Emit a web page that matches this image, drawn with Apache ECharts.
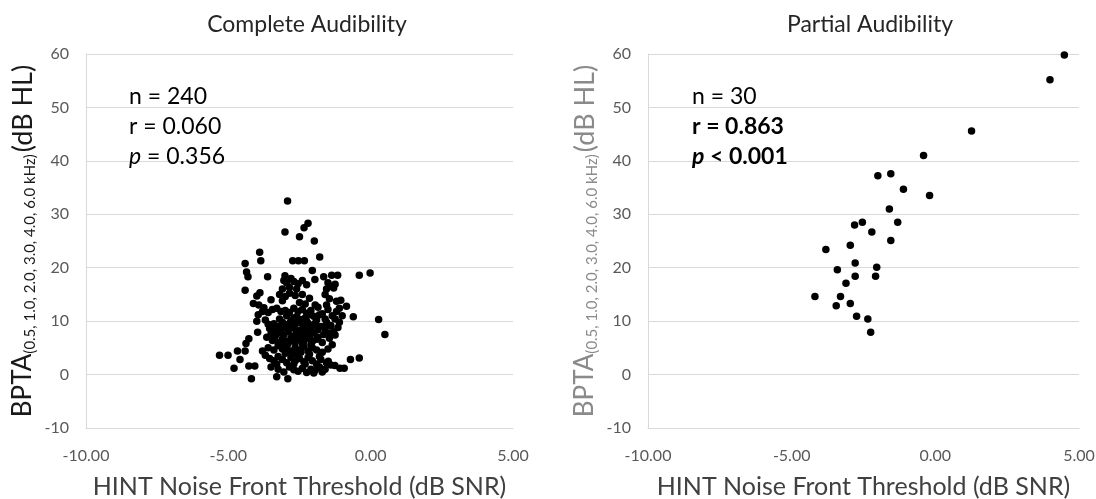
<!DOCTYPE html>
<html>
<head>
<meta charset="utf-8">
<script src="https://cdn.jsdelivr.net/npm/echarts@6/dist/echarts.min.js"></script>
<style>
  html, body { margin: 0; padding: 0; background: #fff; }
  #main { width: 1096px; height: 499px; }
</style>
</head>
<body>
<div id="main"></div>
<script>
const panelTitles = ['Complete Audibility', 'Partial Audibility'];
const xAxisTitle = 'HINT Noise Front Threshold (dB SNR)';
const yAxisMain = 'BPTA';
const yAxisSub = '(0.5, 1.0, 2.0, 3.0, 4.0, 6.0 kHz)';
const yAxisUnit = '(dB HL)';

// n, r, p for each panel
const completeStats = ['n = 240', 'r = 0.060', ' = 0.356'];
const partialStats = ['n = 30', 'r = 0.863', ' < 0.001'];

// complete audibility, [HINT snr, BPTA]
const completePoints = [
  [-2.92,32.5],[-3.01,26.7],[-2.50,25.8],[-2.34,27.5],[-2.20,28.3],[-1.98,25.0],[-3.90,22.9],[-3.86,21.3],
  [-1.79,22.0],[-2.74,21.3],[-2.54,21.3],[-2.33,21.3],[-4.41,20.8],[-4.36,19.2],[-4.31,18.3],[-3.62,18.3],
  [-3.01,18.5],[-2.05,19.5],[-1.96,17.8],[-1.65,18.3],[-1.37,18.6],[-1.16,18.6],[-0.40,18.6],[-0.02,19.0],
  [-4.41,15.8],[-4.00,14.7],[-3.89,15.3],[-4.12,13.3],[-3.93,13.0],[-0.85,12.8],[-0.61,10.8],[0.28,10.3],
  [0.50,7.5],[-0.40,3.1],[-0.71,2.8],[-5.31,3.6],[-5.01,3.6],[-4.68,4.4],[-4.41,4.4],[-4.59,2.8],
  [-4.80,1.2],[-4.28,1.6],[-4.07,1.6],[-4.28,6.7],[-4.38,5.8],[-3.97,7.9],[-4.19,-0.8],[-3.30,-0.4],
  [-2.91,-0.8],[-1.26,1.7],[-1.08,1.2],[-0.93,1.2],[-1.49,2.5],
  [-3.05,17.6],[-2.95,17.2],[-2.80,18.0],[-2.70,17.4],[-2.55,17.0],[-2.40,17.6],[-2.25,16.8],[-1.50,17.2],
  [-1.40,16.6],[-1.25,16.9],[-3.10,16.0],[-2.85,16.3],[-2.60,16.0],[-1.55,16.0],[-1.30,16.2],
  [-3.20,15.0],[-3.00,14.6],[-2.85,15.2],[-2.65,14.8],[-2.40,15.0],[-2.15,14.3],[-1.60,15.0],[-1.45,14.2],
  [-1.20,13.7],[-3.50,14.0],[-3.75,12.5],[-3.10,13.8],[-2.50,13.5],[-2.30,13.2],[-1.95,13.0],[-1.05,13.9],
  [-3.80,11.8],[-3.60,11.6],[-3.45,12.2],[-3.30,12.4],[-3.15,11.8],[-3.00,12.0],[-2.85,11.6],[-2.70,12.4],
  [-2.55,11.8],[-2.40,12.2],[-2.25,11.5],[-2.10,12.0],[-1.85,12.6],[-1.70,11.4],[-1.50,12.2],[-1.35,11.0],
  [-1.20,11.8],[-1.10,12.4],[-1.55,13.0],[-3.95,11.2],[-3.70,10.2],[-2.95,11.0],[-2.60,10.8],[-2.30,10.6],
  [-2.00,10.9],
  [-3.40,9.5],[-3.25,9.0],[-3.10,9.8],[-2.95,9.2],[-2.80,10.0],[-2.65,9.4],[-2.50,9.8],[-2.35,9.0],
  [-2.20,9.6],[-2.05,9.2],[-1.90,10.2],[-1.75,9.0],[-1.55,9.8],[-1.40,9.2],[-1.25,10.4],[-1.15,8.8],
  [-3.55,8.6],[-3.15,8.5],[-2.75,8.7],[-2.45,8.4],[-2.10,8.6],[-1.85,8.4],[-1.60,8.6],[-1.30,8.0],
  [-4.00,10.0],
  [-3.50,7.6],[-3.35,7.2],[-3.20,7.8],[-3.05,7.4],[-2.90,8.0],[-2.75,7.2],[-2.60,7.8],[-2.45,7.4],
  [-2.30,8.0],[-2.15,7.2],[-2.00,7.8],[-1.85,7.0],[-1.65,7.5],[-1.45,6.8],[-1.25,7.4],[-3.45,6.4],
  [-3.25,6.0],[-3.10,6.6],[-2.95,6.2],[-2.80,6.8],[-2.65,6.0],[-2.50,6.6],[-2.35,6.2],[-2.20,6.8],
  [-2.05,6.2],[-1.90,6.6],[-1.70,6.0],[-1.35,5.6],[-3.65,7.0],[-2.40,5.7],
  [-3.60,5.0],[-3.40,4.6],[-3.25,5.4],[-3.10,4.8],[-2.95,5.2],[-2.80,4.4],[-2.65,5.0],[-2.50,4.6],
  [-2.35,5.2],[-2.20,4.4],[-2.05,5.0],[-1.90,4.6],[-1.70,4.2],[-1.50,4.8],[-3.80,4.4],[-3.00,4.0],
  [-2.60,3.9],[-2.15,3.8],
  [-3.55,3.0],[-3.40,2.6],[-3.25,3.4],[-3.10,2.8],[-2.95,2.2],[-2.80,3.2],[-2.65,2.6],[-2.50,3.0],
  [-2.35,2.4],[-2.20,3.2],[-2.05,2.6],[-1.90,2.0],[-1.75,2.8],[-1.55,2.2],[-1.40,1.8],[-3.70,3.6],
  [-3.30,2.0],[-2.70,2.0],
  [-3.50,1.4],[-3.25,1.0],[-2.85,1.4],[-2.55,0.6],[-2.40,1.2],[-2.25,0.4],[-2.10,1.0],[-1.95,0.8],
  [-1.80,1.4],[-1.60,1.0],[-2.00,0.3],[-2.70,0.9],[-3.05,0.5],[-1.70,0.5],
  [-2.45,10.3],[-2.25,10.0],[-2.15,11.2],[-2.35,7.0],[-2.55,7.0],[-2.75,6.4],[-2.60,8.2],[-2.20,8.2],
  [-1.95,9.6],[-2.85,9.6],[-3.00,8.8],[-3.20,10.4],[-2.70,10.6],[-1.80,11.2],[-1.60,10.4],[-1.45,7.8],
  [-2.10,5.6],[-2.90,5.8],[-3.15,5.6],[-2.45,4.2],[-1.80,3.4],[-2.30,2.0],[-3.40,8.2],[-3.60,9.4],
  [-1.10,9.8],[-1.00,11.0]
];

// partial audibility, [HINT snr, BPTA]
const partialPoints = [
  [4.49,59.8],[3.99,55.2],[1.26,45.6],[-0.41,41.0],[-0.20,33.5],[-2.00,37.2],[-1.55,37.6],[-1.11,34.7],
  [-1.60,31.0],[-1.31,28.5],[-1.55,25.1],[-2.54,28.5],[-2.81,28.0],[-2.21,26.7],[-2.96,24.2],[-3.81,23.4],
  [-2.79,20.9],[-3.41,19.6],[-2.04,20.1],[-2.79,18.4],[-2.08,18.4],[-3.11,17.1],[-4.19,14.6],[-3.30,14.6],
  [-3.45,12.9],[-2.96,13.3],[-2.74,10.9],[-2.35,10.4],[-2.25,7.9]
];

const FONT = 'Lato';
const gridLine = '#d9d9d9';
const tickColor = '#595959';

const chart = echarts.init(document.getElementById('main'));

function statsText(lines, bold) {
  const w = bold ? 'b' : 't';
  const wi = bold ? 'bi' : 'i';
  return '{t|' + lines[0] + '}\n{' + w + '|' + lines[1] + '}\n{' + wi + '|p}{' + w + '|' + lines[2] + '}';
}

const statsBase = { fontSize: 23, fontFamily: FONT, color: '#000', lineHeight: 30 };
const statsRich = {
  t: Object.assign({}, statsBase, { fontWeight: 'normal' }),
  i: Object.assign({}, statsBase, { fontWeight: 'normal', fontStyle: 'italic' }),
  b: Object.assign({}, statsBase, { fontWeight: 'bold' }),
  bi: Object.assign({}, statsBase, { fontWeight: 'bold', fontStyle: 'italic' })
};

function yName(color) {
  return {
    name: '{big|' + yAxisMain + '}{sub|' + yAxisSub + '}{unit|' + yAxisUnit + '}',
    nameTextStyle: {
      rich: {
        big: { fontSize: 26, fontFamily: FONT, color: color, lineHeight: 30 },
        unit: { fontSize: 27, fontFamily: FONT, color: color, lineHeight: 30, padding: [0, 0, 0, 2] },
        sub: { fontSize: 15, fontFamily: FONT, color: color, lineHeight: 14, verticalAlign: 'bottom' }
      }
    }
  };
}

const grids = [
  { left: 86, width: 427, top: 54, bottom: 71, outerBoundsMode: 'none' },
  { left: 648, width: 431, top: 54, bottom: 71, outerBoundsMode: 'none' }
];

const xAxes = grids.map((g, i) => ({
  type: 'value', gridIndex: i, min: -10, max: 5, interval: 5,
  axisLine: { show: true, onZero: false, lineStyle: { color: gridLine } },
  axisTick: { show: false },
  splitLine: { show: false },
  axisLabel: { color: tickColor, fontSize: 16, fontFamily: FONT, margin: 20,
    formatter: v => v.toFixed(2) },
  name: xAxisTitle, nameLocation: 'middle', nameGap: 46,
  nameTextStyle: { fontSize: 25, fontFamily: FONT, color: '#404040' }
}));

const yAxes = grids.map((g, i) => Object.assign({
  type: 'value', gridIndex: i, min: -10, max: 60, interval: 10,
  axisLine: { show: true, onZero: false, lineStyle: { color: gridLine } },
  axisTick: { show: false },
  splitLine: { show: true, lineStyle: { color: gridLine, width: 1 } },
  axisLabel: { color: tickColor, fontSize: 16, fontFamily: FONT, margin: 17 },
  nameLocation: 'middle', nameRotate: 90, nameGap: 48
}, yName(i === 0 ? '#1a1a1a' : '#8a8a8a')));

chart.setOption({
  backgroundColor: '#fff',
  animation: false,
  title: [
    { text: panelTitles[0], left: 302, top: 8, textAlign: 'center',
      textStyle: { fontSize: 23, fontWeight: 'normal', fontFamily: FONT, color: '#262626' } },
    { text: panelTitles[1], left: 865, top: 8, textAlign: 'center',
      textStyle: { fontSize: 23, fontWeight: 'normal', fontFamily: FONT, color: '#262626' } },
    { text: statsText(completeStats, false), left: 124, top: 77, textStyle: { rich: statsRich } },
    { text: statsText(partialStats, true), left: 687, top: 77, textStyle: { rich: statsRich } }
  ],
  grid: grids,
  xAxis: xAxes,
  yAxis: yAxes,
  series: [
    { type: 'scatter', xAxisIndex: 0, yAxisIndex: 0, data: completePoints,
      symbolSize: 7.5, itemStyle: { color: '#000', opacity: 1 } },
    { type: 'scatter', xAxisIndex: 1, yAxisIndex: 1, data: partialPoints,
      symbolSize: 7.5, itemStyle: { color: '#000', opacity: 1 } }
  ]
});
</script>
</body>
</html>
